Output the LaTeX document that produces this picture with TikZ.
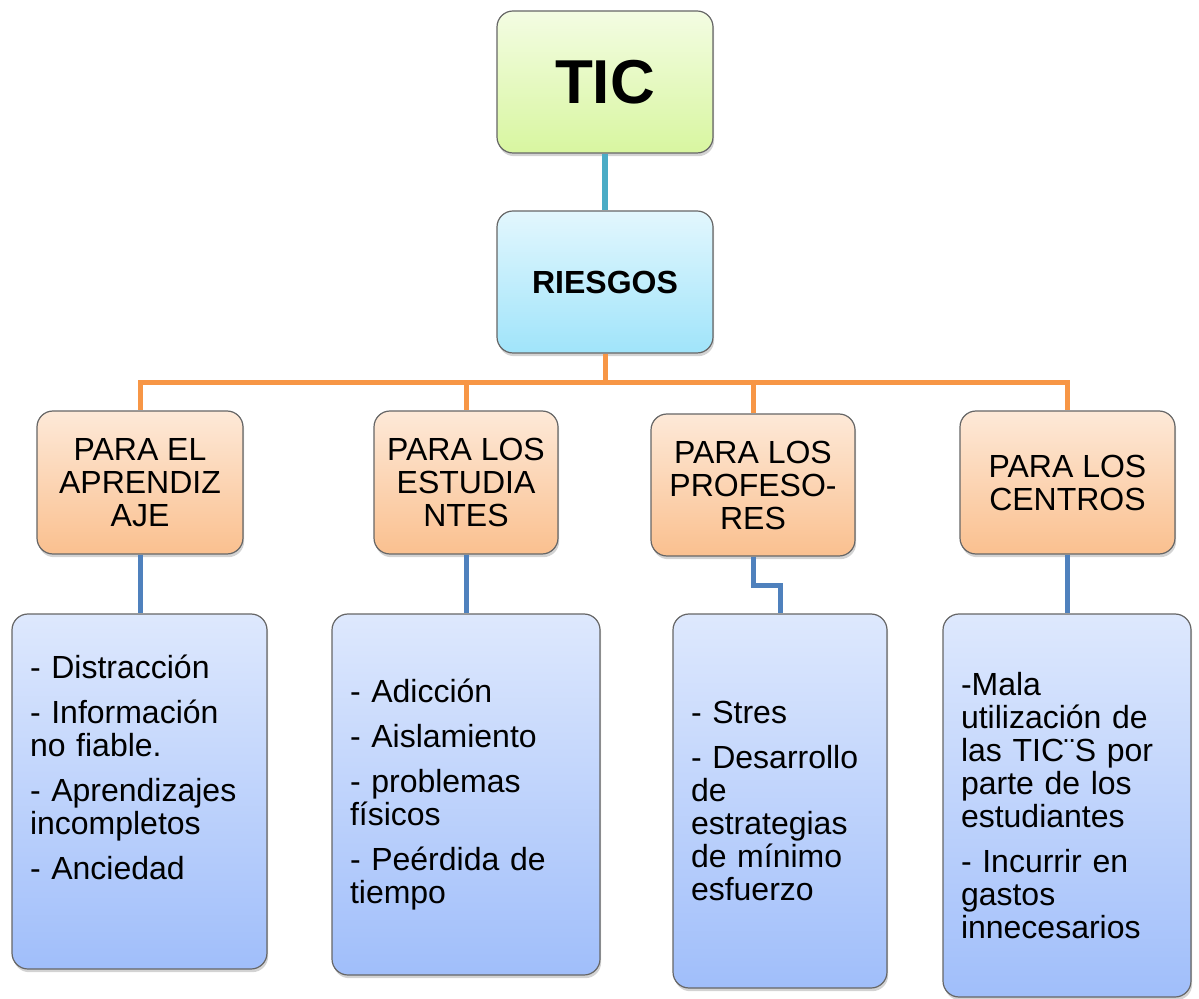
\documentclass[tikz,border=0pt]{standalone}
\usepackage{fontspec}
\setmainfont{Liberation Sans}
\usetikzlibrary{shadows}

\begin{document}
\begin{tikzpicture}[
        x=0.5pt, y=-0.5pt,
    ]

    \definecolor{ticgreen}{RGB}{216,246,160}
    \definecolor{riskblue}{RGB}{160,228,250}
    \definecolor{forange}{RGB}{250,192,143}
    \definecolor{listblue}{RGB}{160,190,250}
    \definecolor{lineteal}{RGB}{75,172,198}
    \definecolor{lineorange}{RGB}{247,150,70}
    \definecolor{lineblue}{RGB}{79,129,189}

    \tikzstyle{box} = [rectangle, rounded corners=8pt, draw=black!60, line width=0.6pt,
                       align=center, inner sep=0pt,
                       drop shadow={shadow xshift=0.6pt, shadow yshift=-1.6pt, opacity=0.35}];
    \tikzstyle{top} = [box, top color=ticgreen!30, bottom color=ticgreen,
                       minimum width=108pt, minimum height=71pt];
    \tikzstyle{para} = [box, top color=forange!35, bottom color=forange,
                        minimum height=71.5pt, font=\fontsize{16}{16.5}\selectfont];
    \tikzstyle{lista} = [box, top color=listblue!35, bottom color=listblue, align=left,
                         inner xsep=9pt, font=\fontsize{16}{16.5}\selectfont];
    \tikzstyle{linea} = [line width=2.5pt];

    \useasboundingbox (0,0) rectangle (1199,999);

    % Nodes
    \node[top, font=\fontsize{31}{31}\selectfont\bfseries] (tic) at (605,82) {TIC};
    \node[top, top color=riskblue!30, bottom color=riskblue,
          font=\fontsize{16}{16}\selectfont\bfseries] (riesgos) at (605,282) {RIESGOS};

    \node[para, minimum width=103pt] (aprend) at (140,482.5) {PARA EL\\APRENDIZ\\AJE};
    \node[para, minimum width=92pt] (estud) at (466,482.5) {PARA LOS\\ESTUDIA\\NTES};
    \node[para, minimum width=102pt, minimum height=71pt] (profes) at (753,485) {PARA LOS\\PROFESO-\\RES};
    \node[para, minimum width=107.5pt] (centros) at (1067.5,482.5) {PARA LOS\\CENTROS};

    \node[lista, text width=109.5pt, minimum height=177.5pt] (lista1) at (139.5,791.5)
        {- Distracción\\[6pt]- Información\\no fiable.\\[6pt]- Aprendizajes\\incompletos\\[6pt]- Anciedad\\[3pt]\strut};
    \node[lista, text width=116pt, minimum height=180.5pt] (lista2) at (466,794.5)
        {- Adicción\\[6pt]- Aislamiento\\[6pt]- problemas\\físicos\\[6pt]- Peérdida de\\tiempo};
    \node[lista, text width=89pt, minimum height=187pt] (lista3) at (780,801)
        {- Stres\\[6pt]- Desarrollo\\de\\estrategias\\de mínimo\\esfuerzo};
    \node[lista, text width=106pt, minimum height=191.5pt] (lista4) at (1067,805.5)
        {-Mala\\utilización de\\las TIC¨S por\\parte de los\\estudiantes\\[6pt]- Incurrir en\\gastos\\innecesarios};

    % Lines
    \draw[linea, line width=3pt, lineteal] (tic) -- (riesgos);

    \coordinate (bus) at (605,383);
    \draw[linea, lineorange] (riesgos) -- (bus);
    \draw[linea, lineorange] (bus) -| (aprend);
    \draw[linea, lineorange] (bus) -| (estud);
    \draw[linea, lineorange] (bus) -| (profes);
    \draw[linea, lineorange] (bus) -| (centros);

    \draw[linea, lineblue] (aprend) -- (aprend |- lista1.north);
    \draw[linea, lineblue] (estud) -- (lista2);
    \draw[linea, lineblue] (profes.south) -- ++(0,29) -| (lista3.north);
    \draw[linea, lineblue] (centros) -- (centros |- lista4.north);

\end{tikzpicture}
\end{document}
